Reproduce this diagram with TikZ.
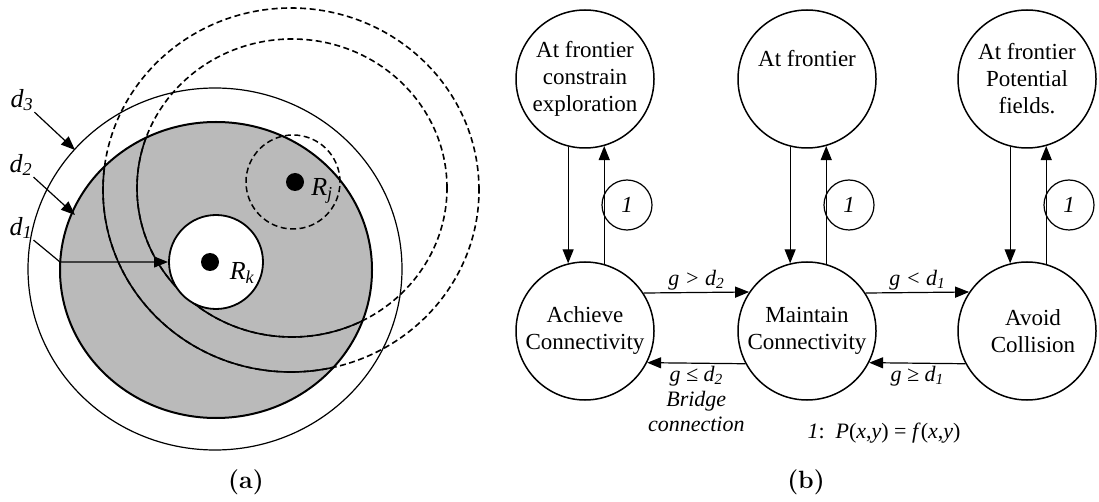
\documentclass[tikz,border=0pt]{standalone}
\usepackage{fontspec}
\newfontfamily\tnr{Liberation Serif}
\usetikzlibrary{arrows.meta}
\begin{document}
\begin{tikzpicture}[x=1pt,y=-1pt,line join=round,
  tip/.style={-{Triangle[length=14pt,width=11pt]},line width=1.2pt},
  state/.style={circle,draw,line width=1.5pt,minimum size=138pt,inner sep=0pt,
    font=\tnr\fontsize{23}{27}\selectfont,align=center},
  loopmark/.style={circle,draw,line width=1.2pt,minimum size=50pt,inner sep=0pt,
    font=\tnr\itshape\fontsize{23}{26}\selectfont},
  cond/.style={font=\tnr\itshape\fontsize{22}{25}\selectfont,align=center,inner sep=2pt},
  dlabel/.style={font=\tnr\itshape\fontsize{26}{28}\selectfont,inner sep=1pt},
  dashcirc/.style={line width=1.6pt,dash pattern=on 6pt off 3.5pt},
  caption/.style={font=\bfseries\fontsize{25}{28}\selectfont},
]
\useasboundingbox (0,0) rectangle (1099,502);

% ---------- (a) ranges around robot R_k ----------
\draw[line width=1.2pt] (215,269) ellipse [x radius=187pt,y radius=181pt];
\fill[black!27] (216,270) ellipse [x radius=156pt,y radius=148pt];
\draw[dashcirc] (291,190) ellipse [x radius=188pt,y radius=182pt];
\draw[dashcirc] (292,188) ellipse [x radius=155pt,y radius=149pt];
\begin{scope}
  \clip (216,270) ellipse [x radius=156pt,y radius=148pt];
  \draw[line width=1.6pt] (291,190) ellipse [x radius=188pt,y radius=182pt];
  \draw[line width=1.6pt] (292,188) ellipse [x radius=155pt,y radius=149pt];
\end{scope}
\draw[line width=2pt] (216,270) ellipse [x radius=156pt,y radius=148pt];
\draw[dashcirc,line width=1.5pt] (293,182) circle [radius=47pt];
\draw[line width=1.8pt,fill=white] (216,262) circle [radius=47pt];
\fill (210,262) circle [radius=9pt];
\fill (295,182) circle [radius=9pt];
\node[dlabel] (rk) at (242,273) {R\textsubscript{k}};
\node[dlabel] (rj) at (322,191) {R\textsubscript{j}};

\node[dlabel] (d3) at (22,100) {d\textsubscript{3}};
\node[dlabel] (d2) at (21,165) {d\textsubscript{2}};
\node[dlabel] (d1) at (21,228) {d\textsubscript{1}};
\coordinate (t3) at (75,150);
\coordinate (t2) at (75,215);
\coordinate (k1) at (60,262);
\coordinate (t1) at (168,262);
\draw[tip] (d3.south east) -- (t3);
\draw[tip] (d2.south east) -- (t2);
\draw[tip] (d1.south east) .. controls (48,252) .. (k1) -- (t1);

\node[caption] (capa) at (246,482) {(a)};

% ---------- (b) behaviour states ----------
\node[state] (f1) at (585,79) {At frontier\\constrain\\exploration};
\node[state] (f2) at (807,79) {};
\node[font=\tnr\fontsize{23}{27}\selectfont] (f2t) at (807,59) {At frontier};
\node[state] (f3) at (1027,79) {At frontier\\Potential\\fields.};

\node[state] (ac) at (585,331) {Achieve\\Connectivity};
\node[state] (mc) at (807,331) {Maintain\\Connectivity};
\node[state] (av) at (1027,331) {\hspace*{12pt}Avoid\\\hspace*{12pt}Collision};

\foreach \top/\bot/\m/\mx in {f1/ac/one1/627,f2/mc/one2/849,f3/av/one3/1069}{
  \draw[tip] (\top.-104.3) -- (\bot.104.3);
  \draw[tip] (\bot.74.9) -- (\top.-74.9);
  \node[loopmark] (\m) at (\mx,205) {1};
}

\draw[tip] (ac.33.4) -- node[cond,above] (c1) {g > d\textsubscript{2}} (mc.146.6);
\draw[tip] (mc.-152.4) -- node[cond,below] (c2) {g ≤ d\textsubscript{2}\\Bridge\\connection} (ac.-27.6);
\draw[tip] (mc.33.4) -- node[cond,above] (c3) {g < d\textsubscript{1}} (av.146.6);
\draw[tip] (av.-152.4) -- node[cond,below] (c4) {g ≥ d\textsubscript{1}} (mc.-27.6);

\node[font=\tnr\fontsize{22}{25}\selectfont] (key) at (884,433)
  {\textit{1}:\enspace\textit{P}(\textit{x},\textit{y}) = \textit{f}(\textit{x},\textit{y})};

\node[caption] (capb) at (806,482) {(b)};
\end{tikzpicture}
\end{document}
